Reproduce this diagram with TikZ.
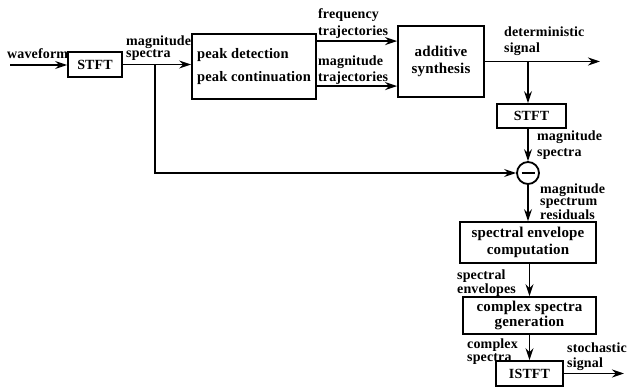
\documentclass[tikz,border=0pt]{standalone}
\usepackage{fontspec}
\setmainfont{Liberation Serif}
\newfontfamily\lblfont[LetterSpace=1]{Liberation Serif}
\usetikzlibrary{arrows.meta,calc}
\begin{document}
\begin{tikzpicture}[x=1pt,y=-1pt,
  box/.style={draw,line width=1.8pt,inner sep=0pt,align=center,
    font=\lblfont\bfseries\fontsize{15}{16.5}\selectfont},
  smallbox/.style={box,font=\lblfont\bfseries\fontsize{14}{15}\selectfont},
  lbl/.style={inner sep=0pt,align=left,anchor=north west,
    font=\lblfont\bfseries\fontsize{14}{16}\selectfont},
  tight/.style={font=\lblfont\bfseries\fontsize{14}{12.5}\selectfont},
  flow/.style={line width=1.8pt,-{Stealth[length=12pt,width=8pt,inset=4pt]}},
  wire/.style={line width=1.8pt}]
\useasboundingbox[fill=white] (0,0) rectangle (630,387);

% boxes
\node[smallbox,minimum width=54pt,minimum height=25pt] (stft1) at (95,64.5) {STFT};
\node[box,minimum width=124pt,minimum height=65pt,align=left,
  font=\lblfont\bfseries\fontsize{14.5}{16}\selectfont] (peak) at (254,66.5)
  {peak detection\\[7pt]peak continuation};
\node[box,minimum width=86pt,minimum height=71pt] (add) at (441,61.5)
  {additive\\synthesis};
\node[smallbox,minimum width=69pt,minimum height=24pt] (stft2) at (531.5,116) {STFT};
\node[draw,circle,line width=1.8pt,minimum size=22pt,inner sep=0pt] (minus) at (528,173) {};
\draw[line width=2.4pt] ($(minus.center)+(-6.5,0)$) -- ($(minus.center)+(6.5,0)$);
\node[box,minimum width=136pt,minimum height=41pt] (env) at (528,242.5)
  {spectral envelope\\computation};
\node[box,minimum width=133pt,minimum height=37pt,font=\lblfont\bfseries\fontsize{15}{14.5}\selectfont] (cplx) at (529.5,315.5)
  {complex spectra\\generation};
\node[smallbox,minimum width=67pt,minimum height=25pt] (istft) at (529.5,373.5) {ISTFT};

% free ends and branch points
\coordinate (in) at (10,65);
\coordinate (br1) at (155,65);
\coordinate (br2) at (528,61.5);
\coordinate (out1) at (600,61.5);
\coordinate (out2) at (624,373.5);
\coordinate (fq) at ($(peak.north east)+(0,8)$);
\coordinate (mg) at ($(peak.north east)+(0,53)$);

% connectors
\draw[flow] (in) -- (in -| stft1.west);
\draw[flow] (stft1.east) -- (stft1.east -| peak.west);
\draw[flow] (br1) |- (minus.west);
\draw[flow] (fq) -- (fq -| add.west);
\draw[flow] (mg) -- (mg -| add.west);
\draw[flow] (add.east |- out1) -- (out1);
\draw[flow] (br2) -- (br2 |- stft2.north);
\draw[flow] (stft2.south -| minus) -- (minus.north);
\draw[flow] (minus.south) -- (minus.south |- env.north);
\draw[flow] (env.south -| cplx) -- (cplx.north);
\draw[flow] (cplx.south) -- (istft.north);
\draw[flow] (istft.east |- out2) -- (out2);

% labels
\node[lbl] (l1) at (7,48) {waveform};
\node[lbl,tight] (l2) at (126,35.5) {magnitude\\spectra};
\node[lbl,font=\lblfont\bfseries\fontsize{14}{17}\selectfont] (l3) at (318,8.5) {frequency\\trajectories};
\node[lbl] (l4) at (318,55.5) {magnitude\\trajectories};
\node[lbl] (l5) at (504,26.5) {deterministic\\signal};
\node[lbl] (l6) at (537,130.5) {magnitude\\spectra};
\node[lbl,tight] (l7) at (540,183.5) {magnitude\\spectrum\\residuals};
\node[lbl,font=\lblfont\bfseries\fontsize{14}{14}\selectfont] (l8) at (457,269.5) {spectral\\envelopes};
\node[lbl,font=\lblfont\bfseries\fontsize{14}{13.5}\selectfont] (l9) at (467,338.5) {complex\\spectra};
\node[lbl,font=\lblfont\bfseries\fontsize{14}{15}\selectfont] (l10) at (567,342.5) {stochastic\\signal};
\end{tikzpicture}
\end{document}
